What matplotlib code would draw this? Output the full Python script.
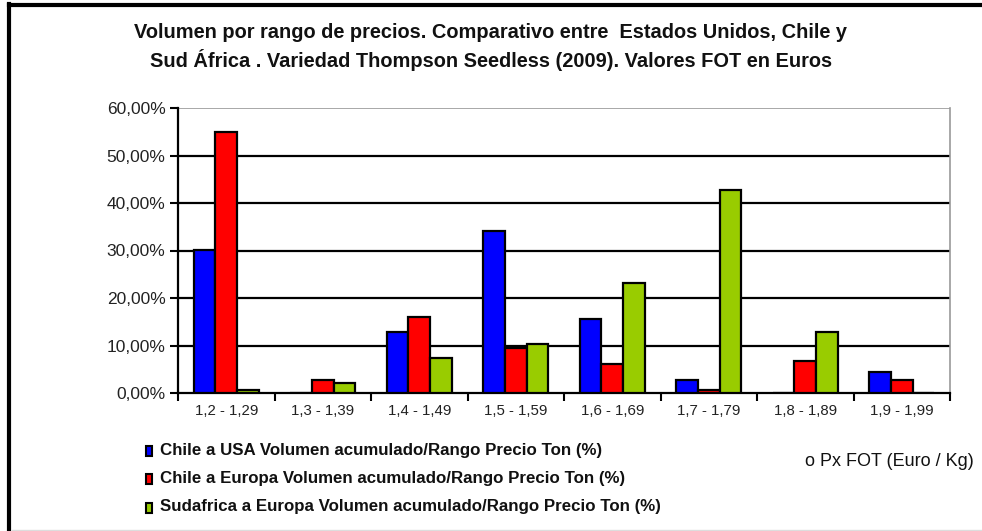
import matplotlib
matplotlib.use("Agg")
import matplotlib.pyplot as plt
import numpy as np
from matplotlib.ticker import FuncFormatter, FixedLocator
from matplotlib.patches import Rectangle
from matplotlib.lines import Line2D
from matplotlib import font_manager

plt.rcParams['font.family'] = ['Liberation Sans', 'DejaVu Sans']

categories = ["1,2 - 1,29", "1,3 - 1,39", "1,4 - 1,49", "1,5 - 1,59",
              "1,6 - 1,69", "1,7 - 1,79", "1,8 - 1,89", "1,9 - 1,99"]
chile_usa = [30.2, 0.0, 12.8, 34.1, 15.6, 2.8, 0.0, 4.4]
chile_europa = [54.9, 2.8, 16.0, 9.5, 6.2, 0.6, 6.7, 2.8]
sudafrica_europa = [0.6, 2.2, 7.3, 10.4, 23.2, 42.8, 12.8, 0.0]
series_names = ["Chile a USA Volumen acumulado/Rango Precio Ton (%)",
                "Chile a Europa Volumen acumulado/Rango Precio Ton (%)",
                "Sudafrica a Europa Volumen acumulado/Rango Precio Ton (%)"]
colors = ["#0000FF", "#FF0000", "#99CC00"]
title = ("Volumen por rango de precios. Comparativo entre  Estados Unidos, Chile y\n"
         "Sud África . Variedad Thompson Seedless (2009). Valores FOT en Euros")
xlabel_text = "o Px FOT (Euro / Kg)"

names = {f.name for f in font_manager.fontManager.ttflist}
narrow = None
for cand in ["Liberation Sans Narrow", "Arial Narrow", "DejaVu Sans Condensed"]:
    if cand in names:
        narrow = cand
        break

fig = plt.figure(figsize=(9.82, 5.31), dpi=100)
ax = fig.add_axes([178/982, 1-393/531, (950-178)/982, (393-108)/531])

x = np.arange(len(categories))
w = 0.225
for i, (vals, c) in enumerate(zip([chile_usa, chile_europa, sudafrica_europa], colors)):
    ax.bar(x + (i-1)*w, vals, width=w, color=c, edgecolor='black', linewidth=1.6, zorder=3)

ax.set_xlim(-0.5, len(categories)-0.5)
ax.set_ylim(0, 60)
ax.set_yticks(np.arange(0, 61, 10))
ax.yaxis.set_major_formatter(FuncFormatter(lambda v, p: f"{v:.2f}".replace('.', ',') + "%"))
ax.tick_params(axis='y', labelsize=12.5, labelcolor='#222222', length=6, width=1.5, direction='out', pad=3)
for yv in range(10, 60, 10):
    ax.axhline(yv, color='black', linewidth=1.6, zorder=1)
ax.axhline(60, color='#999999', linewidth=1.2, zorder=1)

ax.set_xticks(x)
ax.set_xticklabels(categories, fontsize=10.8, color='#222222')
ax.tick_params(axis='x', length=0, pad=8)
ax.xaxis.set_minor_locator(FixedLocator(np.arange(-0.5, len(categories), 1.0)))
ax.tick_params(axis='x', which='minor', length=6, width=1.5, direction='out')

for s in ['left', 'bottom']:
    ax.spines[s].set_linewidth(1.6)
    ax.spines[s].set_color('black')
ax.spines['top'].set_visible(False)
ax.spines['right'].set_color('#999999')
ax.spines['right'].set_linewidth(1.2)

if narrow is not None:
    fig.text(491/982, 1-47/531, title, ha='center', va='center', fontsize=16.5,
             fontweight='bold', linespacing=1.25, color='#111111', family=narrow)
else:
    fig.text(491/982, 1-47/531, title, ha='center', va='center', fontsize=14.4,
             fontweight='bold', linespacing=1.4, color='#111111')

legend_y = [450, 478, 507]
for name, c, yy in zip(series_names, colors, legend_y):
    fig.patches.append(Rectangle((146/982, 1-(yy+6)/531), 6/982, 10/531,
                                 transform=fig.transFigure, facecolor=c,
                                 edgecolor='black', linewidth=1.5))
    fig.text(160/982, 1-yy/531, name, ha='left', va='center', fontsize=12.2,
             fontweight='bold', color='#111111')

fig.text(805/982, 1-461/531, xlabel_text, ha='left', va='center', fontsize=13,
         color='#111111')

# figure frame lines
fig.add_artist(Line2D([9/982, 9/982], [0, 1-4/531], transform=fig.transFigure,
                      color='black', linewidth=3))
fig.add_artist(Line2D([9/982, 1], [1-5/531, 1-5/531], transform=fig.transFigure,
                      color='black', linewidth=3))
fig.add_artist(Line2D([12/982, 1], [1/531, 1/531], transform=fig.transFigure,
                      color='#dddddd', linewidth=1))

fig.savefig("out.png", dpi=100)
